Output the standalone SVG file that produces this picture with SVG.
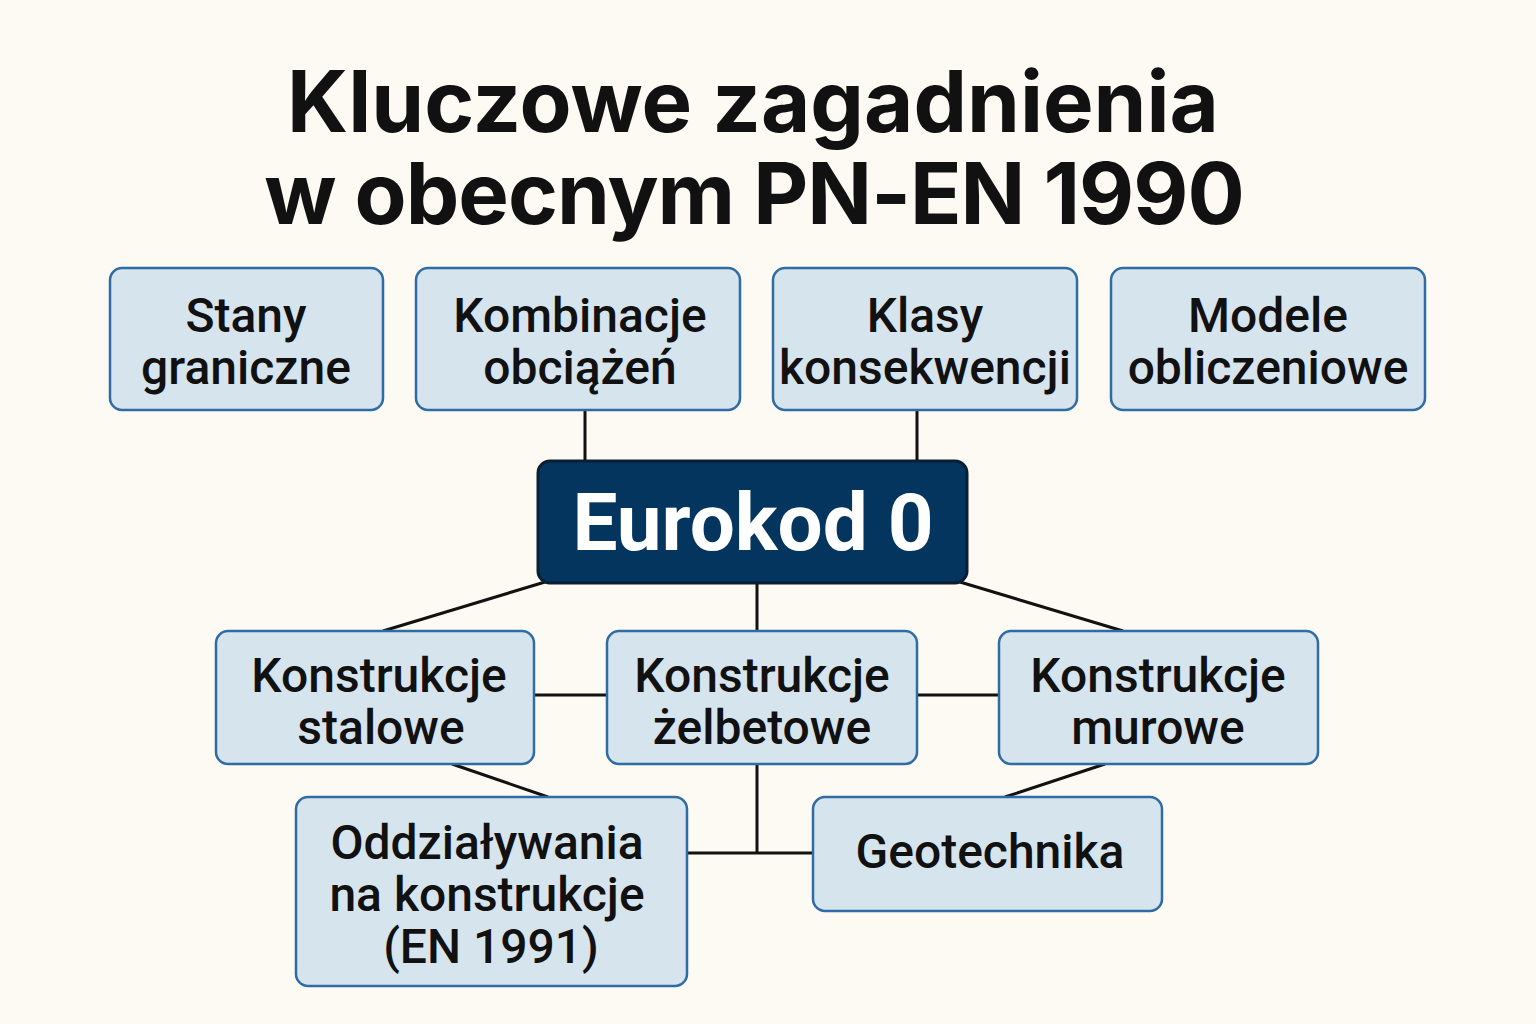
<svg xmlns="http://www.w3.org/2000/svg" width="1536" height="1024" viewBox="0 0 1536 1024">
<style>
.bg{fill:#FDFAF3}
.box{fill:#D6E4EE;stroke:#2F6CA3;stroke-width:2.5}
.main{fill:#03355E;stroke:#0B1F33;stroke-width:3}
.t{font-family:Roboto,"Liberation Sans",sans-serif;font-weight:500;font-size:48px;fill:#111;text-anchor:middle}
.title{font-family:Inter,"Liberation Sans",sans-serif;font-weight:700;font-size:85px;fill:#111;text-anchor:middle}
.mt{font-family:Roboto,"Liberation Sans",sans-serif;font-weight:700;font-size:80px;fill:#fff;text-anchor:middle}
.c{stroke:#111;stroke-width:3;fill:none}
</style>
<rect class="bg" x="0" y="0" width="1536" height="1024"/>
<g id="title">
<text class="title" x="753" y="132">Kluczowe zagadnienia</text>
<text class="title" x="754" y="224" letter-spacing="-1">w obecnym PN-EN 1990</text>
</g>
<g id="connectors">
<line class="c" x1="585" y1="410" x2="585" y2="461"/>
<line class="c" x1="917" y1="410" x2="917" y2="461"/>
<line class="c" x1="545" y1="582" x2="383" y2="631"/>
<line class="c" x1="757" y1="583" x2="757" y2="631"/>
<line class="c" x1="960" y1="582" x2="1123" y2="631"/>
<line class="c" x1="534" y1="695" x2="607" y2="695"/>
<line class="c" x1="917" y1="695" x2="999" y2="695"/>
<line class="c" x1="452" y1="764" x2="548" y2="797"/>
<line class="c" x1="1105" y1="764" x2="1005" y2="797"/>
<line class="c" x1="757" y1="764" x2="757" y2="853"/>
<line class="c" x1="687" y1="853" x2="813" y2="853"/>
</g>
<g id="stany">
<rect class="box" x="110" y="268" width="273" height="142" rx="12"/>
<text class="t" x="246" y="332">Stany</text>
<text class="t" x="246" y="384">graniczne</text>
</g>
<g id="kombinacje">
<rect class="box" x="416" y="268" width="324" height="142" rx="12"/>
<text class="t" x="580" y="332">Kombinacje</text>
<text class="t" x="580" y="384">obciążeń</text>
</g>
<g id="klasy">
<rect class="box" x="773" y="268" width="304" height="142" rx="12"/>
<text class="t" x="925" y="332">Klasy</text>
<text class="t" x="925" y="384">konsekwencji</text>
</g>
<g id="modele">
<rect class="box" x="1111" y="268" width="314" height="142" rx="12"/>
<text class="t" x="1268" y="332">Modele</text>
<text class="t" x="1268" y="384">obliczeniowe</text>
</g>
<g id="eurokod">
<rect class="main" x="538" y="461" width="429" height="122" rx="12"/>
<text class="mt" x="753" y="550">Eurokod 0</text>
</g>
<g id="stalowe">
<rect class="box" x="216" y="631" width="318" height="133" rx="12"/>
<text class="t" x="379" y="692">Konstrukcje</text>
<text class="t" x="381" y="744">stalowe</text>
</g>
<g id="zelbetowe">
<rect class="box" x="607" y="631" width="310" height="133" rx="12"/>
<text class="t" x="762" y="692">Konstrukcje</text>
<text class="t" x="762" y="744">żelbetowe</text>
</g>
<g id="murowe">
<rect class="box" x="999" y="631" width="319" height="133" rx="12"/>
<text class="t" x="1158" y="692">Konstrukcje</text>
<text class="t" x="1158" y="744">murowe</text>
</g>
<g id="oddzialywania">
<rect class="box" x="296" y="797" width="391" height="189" rx="12"/>
<text class="t" x="487" y="859">Oddziaływania</text>
<text class="t" x="487" y="911">na konstrukcje</text>
<text class="t" x="491" y="963">(EN 1991)</text>
</g>
<g id="geotechnika">
<rect class="box" x="813" y="797" width="349" height="114" rx="12"/>
<text class="t" x="990" y="868">Geotechnika</text>
</g>
</svg>
